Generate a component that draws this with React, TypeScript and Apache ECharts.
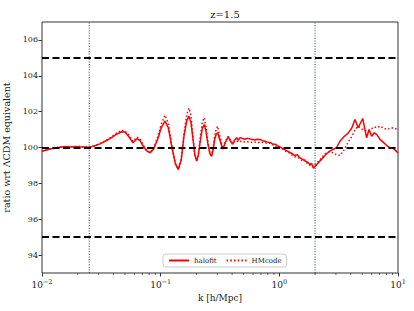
import React, { useEffect, useRef } from "react";
import * as echarts from "echarts";

const kValues = [
  0.01, 0.0117, 0.0142, 0.0158, 0.0172, 0.019, 0.0209, 0.0228, 0.0249, 0.0275,
  0.0308, 0.034, 0.0374, 0.042, 0.0469, 0.05, 0.054, 0.0584, 0.0631, 0.067,
  0.0709, 0.076, 0.0813, 0.087, 0.0949, 0.101, 0.1087, 0.116, 0.1245, 0.133,
  0.1407, 0.149, 0.157, 0.166, 0.173, 0.18, 0.187, 0.194, 0.201, 0.208,
  0.216, 0.225, 0.233, 0.241, 0.25, 0.26, 0.269, 0.277, 0.285, 0.294,
  0.302, 0.316, 0.333, 0.352, 0.371, 0.388, 0.404, 0.42, 0.437, 0.45,
  0.466, 0.49, 0.513, 0.54, 0.565, 0.595, 0.623, 0.655, 0.687, 0.72,
  0.756, 0.795, 0.834, 0.875, 0.919, 0.965, 1.012, 1.06, 1.115, 1.17,
  1.228, 1.29, 1.353, 1.42, 1.492, 1.56, 1.644, 1.72, 1.811, 1.87,
  1.931, 2.034, 2.198, 2.35, 2.502, 2.66, 2.846, 3.04, 3.24, 3.5,
  3.8, 4.09, 4.34, 4.62, 5.04, 5.44, 5.7, 6.0, 6.3, 6.61,
  7.05, 7.5, 8.06, 8.55, 9.14, 10,
];

const halofit = [
  99.79, 99.92, 100.02, 100.06, 100.03, 100.06, 100.04, 100.03, 100.01, 100.08,
  100.2, 100.35, 100.5, 100.72, 100.88, 100.86, 100.6, 100.26, 100.49, 100.38,
  100.1, 99.82, 99.7, 99.9, 100.5, 101.1, 101.47, 101.1, 100.0, 99.1,
  98.77, 99.3, 100.6, 101.5, 101.75, 101.4, 100.5, 99.6, 99.24, 99.6,
  100.4, 101.1, 101.28, 100.9, 100.2, 99.65, 99.51, 99.9, 100.45, 100.75,
  100.82, 100.4, 99.9, 100.3, 100.6, 100.35, 100.18, 100.42, 100.55, 100.4,
  100.55, 100.5, 100.46, 100.52, 100.48, 100.45, 100.42, 100.46, 100.45, 100.38,
  100.35, 100.3, 100.28, 100.2, 100.18, 100.1, 100.03, 99.95, 99.88, 99.8,
  99.72, 99.65, 99.55, 99.6, 99.42, 99.35, 99.25, 99.2, 99.05, 99.12,
  98.85, 99.0, 99.25, 99.45, 99.65, 99.8, 99.9, 100.0, 100.35, 100.6,
  100.8, 101.1, 101.56, 101.1, 101.62, 100.54, 101.0, 100.63, 100.82, 100.73,
  100.45, 100.3, 100.1, 99.98, 99.95, 99.7,
];

const hmcode = [
  99.8, 99.93, 100.03, 100.04, 100.06, 100.02, 100.07, 100.02, 100.02, 100.09,
  100.22, 100.37, 100.54, 100.78, 100.96, 100.92, 100.7, 100.34, 100.58, 100.48,
  100.15, 99.84, 99.72, 99.95, 100.6, 101.3, 101.8, 101.35, 100.05, 99.08,
  98.8, 99.35, 100.75, 101.85, 102.2, 101.8, 100.6, 99.6, 99.25, 99.65,
  100.6, 101.45, 101.66, 101.15, 100.3, 99.7, 99.55, 100.0, 100.65, 101.05,
  101.19, 100.6, 99.95, 100.35, 100.62, 100.4, 100.22, 100.35, 100.38, 100.3,
  100.35, 100.33, 100.3, 100.32, 100.3, 100.28, 100.3, 100.26, 100.3, 100.28,
  100.27, 100.22, 100.25, 100.15, 100.1, 100.0, 99.95, 99.92, 99.8, 99.75,
  99.68, 99.55, 99.48, 99.45, 99.38, 99.25, 99.3, 99.1, 99.0, 99.05,
  98.95, 99.1, 99.3, 99.55, 99.72, 99.75, 99.7, 99.6, 99.55, 99.85,
  100.3, 100.63, 101.0, 101.19, 101.0, 100.91, 100.95, 101.05, 101.15, 101.1,
  101.19, 101.1, 101.0, 101.06, 101.1, 101.0,
];

const yTicks = [94, 96, 98, 100, 102, 104, 106];
const refLevels = [95, 100, 105];
const scaleCuts = [0.025, 2];
const yRange = [93, 107];
const minorTicks = [
  0.02, 0.03, 0.04, 0.05, 0.06, 0.07, 0.08, 0.09,
  0.2, 0.3, 0.4, 0.5, 0.6, 0.7, 0.8, 0.9,
  2, 3, 4, 5, 6, 7, 8, 9,
];

const FONT = "DejaVu Serif";

export default function App() {
  const ref = useRef<HTMLDivElement>(null);
  useEffect(() => {
    if (!ref.current) return;
    const chart = echarts.init(ref.current, null, { renderer: "svg" });
    const halofitData = kValues.map((k, i) => [k, halofit[i]]);
    const hmData = kValues.map((k, i) => [k, hmcode[i]]);
    const cutSeries = scaleCuts.map((k, i) => ({
      name: "cut" + i,
      type: "line",
      data: [
        [k, yRange[0]],
        [k, yRange[1]],
      ],
      showSymbol: false,
      symbol: "none",
      silent: true,
      lineStyle: { color: "#2f4f4f", width: 1.1, type: [1, 1.6] },
      z: 4,
    }));
    chart.setOption({
      animation: false,
      backgroundColor: "#fff",
      textStyle: { fontFamily: FONT },
      title: {
        text: "z=1.5",
        left: 220,
        top: 4,
        textAlign: "center",
        textStyle: { fontFamily: FONT, fontSize: 10, fontWeight: "normal", color: "#222" },
      },
      grid: {
        left: 42,
        right: 16,
        top: 22,
        bottom: 38,
        show: true,
        borderColor: "#333",
        borderWidth: 1,
        backgroundColor: "transparent",
        containLabel: false,
        outerBoundsMode: "none",
      },
      legend: {
        left: 163,
        top: 254,
        orient: "horizontal",
        itemWidth: 20,
        itemHeight: 8,
        itemGap: 9,
        padding: [3, 5],
        borderColor: "#ccc",
        borderWidth: 1,
        borderRadius: 3,
        backgroundColor: "rgba(255,255,255,0.8)",
        itemStyle: { opacity: 0 },
        textStyle: { fontFamily: FONT, fontSize: 7, color: "#222" },
        data: ["halofit", "HMcode"],
      },
      xAxis: {
        type: "log",
        logBase: 10,
        min: 0.01,
        max: 10,
        name: "k [h/Mpc]",
        nameLocation: "middle",
        nameGap: 17,
        nameTextStyle: { fontFamily: FONT, fontSize: 9, color: "#222" },
        axisLine: { show: false },
        axisTick: { show: true, length: 3.5, inside: false, lineStyle: { color: "#333", width: 1 } },
        splitLine: { show: false },
        axisLabel: {
          margin: 5,
          color: "#222",
          formatter: (v: number) => {
            const e = Math.round(Math.log10(v));
            const s = e < 0 ? "\u2212" + Math.abs(e) : String(e);
            return "{b|10}{e|" + s + "}";
          },
          rich: {
            b: { fontFamily: FONT, fontSize: 9, color: "#222" },
            e: { fontFamily: FONT, fontSize: 6.5, color: "#222", padding: [0, 0, 6, 0] },
          },
        },
      },
      yAxis: {
        type: "value",
        min: yRange[0],
        max: yRange[1],
        name: "ratio wrt \u039BCDM equivalent",
        nameLocation: "middle",
        nameGap: 22,
        nameRotate: 90,
        nameTextStyle: { fontFamily: FONT, fontSize: 9.5, color: "#222" },
        axisLine: { show: false },
        axisTick: { show: true, length: 3.5, customValues: yTicks, lineStyle: { color: "#333" } },
        axisLabel: { customValues: yTicks, fontFamily: FONT, fontSize: 8, color: "#222", margin: 4 },
        splitLine: { show: false },
      },
      series: [
        {
          name: "halofit",
          type: "line",
          data: halofitData,
          showSymbol: false,
          symbol: "none",
          color: "#ff0000",
          lineStyle: { color: "#ff0000", width: 1.5 },
          z: 3,
        },
        {
          name: "HMcode",
          type: "line",
          data: hmData,
          showSymbol: false,
          symbol: "none",
          color: "#ff0000",
          lineStyle: { color: "#ff0000", width: 1.5, type: [1.5, 2.2] },
          z: 3,
        },
        ...cutSeries,
        {
          name: "refs",
          type: "line",
          data: [],
          z: 5,
          markLine: {
            silent: true,
            symbol: "none",
            label: { show: false },
            data: refLevels.map((v) => ({
              yAxis: v,
              lineStyle: { color: "#000", width: 1.8, type: [7, 3.5] },
            })),
          },
        },
        {
          name: "minor",
          type: "custom",
          silent: true,
          clip: false,
          data: minorTicks.map((k) => [k, yRange[0]]),
          renderItem: (params: any, api: any) => {
            const p = api.coord([api.value(0), yRange[0]]);
            return {
              type: "line",
              shape: { x1: p[0], y1: p[1], x2: p[0], y2: p[1] + 2 },
              style: { stroke: "#333", lineWidth: 0.8 },
            };
          },
        },
      ],
    });
    return () => chart.dispose();
  }, []);
  return <div ref={ref} style={{ width: 414, height: 311, position: "absolute", left: 0, top: 0 }} />;
}
